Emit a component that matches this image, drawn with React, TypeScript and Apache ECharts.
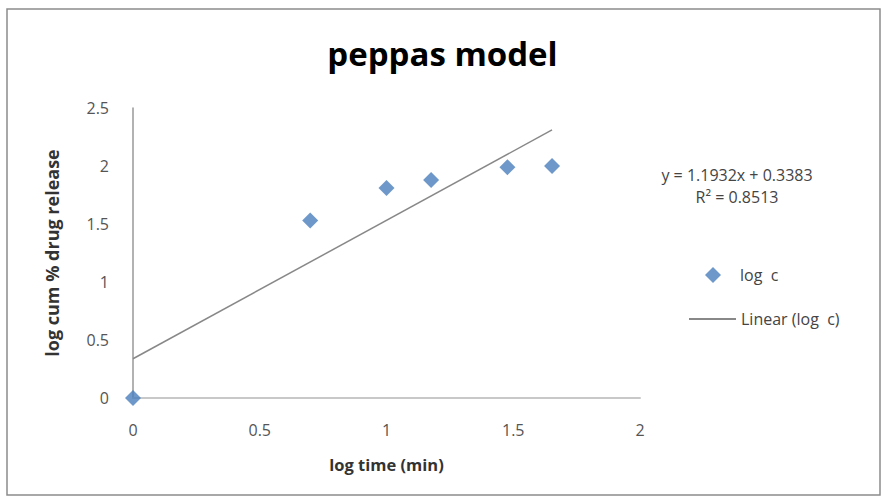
import React, { useEffect, useRef } from "react";
import * as echarts from "echarts";

const logTime = [0, 0.699, 1, 1.176, 1.477, 1.653];
const logC = [0, 1.53, 1.81, 1.88, 1.99, 2.0];
const slope = 1.1932;
const intercept = 0.3383;
const trendX = [0, 1.653];
const xTicks = [0, 0.5, 1, 1.5, 2];
const yTicks = [0, 0.5, 1, 1.5, 2, 2.5];

const FONT = "'Open Sans', 'Noto Sans', sans-serif";

export default function App() {
  const ref = useRef<HTMLDivElement>(null);
  useEffect(() => {
    if (!ref.current) return;
    const chart = echarts.init(ref.current, null, { renderer: "svg" });
    const trend = trendX.map((x) => [x, slope * x + intercept]);
    chart.setOption({
      animation: false,
      backgroundColor: "#ffffff",
      title: {
        text: "peppas model",
        left: "center",
        top: 32,
        textStyle: { fontFamily: FONT, fontSize: 33, fontWeight: "bold", color: "#000" },
      },
      grid: { left: 133, right: 245, top: 108, bottom: 101 },
      xAxis: {
        type: "value",
        min: xTicks[0],
        max: xTicks[xTicks.length - 1],
        interval: 0.5,
        name: "log time (min)",
        nameLocation: "middle",
        nameGap: 58,
        nameTextStyle: { fontFamily: FONT, fontSize: 16.5, fontWeight: "bold", color: "#333" },
        axisLine: { show: true, lineStyle: { color: "#c8c8c8", width: 2 } },
        axisTick: { show: false },
        splitLine: { show: false },
        axisLabel: { fontFamily: FONT, fontSize: 16, color: "#555", margin: 24 },
      },
      yAxis: {
        type: "value",
        min: yTicks[0],
        max: yTicks[yTicks.length - 1],
        interval: 0.5,
        name: "log cum % drug release",
        nameLocation: "middle",
        nameGap: 72,
        nameTextStyle: { fontFamily: FONT, fontSize: 18, fontWeight: "bold", color: "#333" },
        axisLine: { show: true, lineStyle: { color: "#999", width: 1.5 } },
        axisTick: { show: false },
        splitLine: { show: false },
        axisLabel: { fontFamily: FONT, fontSize: 16, color: "#555", margin: 24 },
      },
      legend: [
        {
          data: [{ name: "log  c", icon: "diamond" }],
          left: 700,
          top: 262,
          itemWidth: 16,
          itemHeight: 16,
          textStyle: { fontFamily: FONT, fontSize: 16, color: "#444", padding: [0, 0, 0, 14] },
        },
        {
          data: [{ name: "Linear (log  c)", icon: "rect" }],
          left: 684,
          top: 306,
          itemWidth: 47,
          itemHeight: 2,
          textStyle: { fontFamily: FONT, fontSize: 16, color: "#444", padding: [0, 0, 0, 0] },
        },
      ],
      graphic: [
        {
          type: "rect",
          shape: { x: 7, y: 9, width: 873, height: 486 },
          style: { fill: "none", stroke: "#8c8c8c", lineWidth: 1.5 },
          silent: true,
          z: -1,
        },
        {
          type: "text",
          x: 737,
          y: 175,
          style: {
            text: "y = 1.1932x + 0.3383",
            fontFamily: FONT,
            fontSize: 16,
            fill: "#444",
            align: "center",
            verticalAlign: "middle",
          },
        },
        {
          type: "text",
          x: 737,
          y: 197,
          style: {
            text: "R² = 0.8513",
            fontFamily: FONT,
            fontSize: 16,
            fill: "#444",
            align: "center",
            verticalAlign: "middle",
          },
        },
      ],
      series: [
        {
          name: "Linear (log  c)",
          type: "line",
          data: trend,
          showSymbol: false,
          symbol: "none",
          lineStyle: { color: "#888888", width: 1.5 },
          itemStyle: { color: "#888888" },
          z: 1,
        },
        {
          name: "log  c",
          type: "scatter",
          data: logTime.map((x, i) => [x, logC[i]]),
          symbol: "diamond",
          symbolSize: 16,
          itemStyle: { color: "#4a7ebb" },
          z: 2,
        },
      ],
    });
    return () => chart.dispose();
  }, []);
  return (
    <div
      ref={ref}
      style={{ position: "fixed", left: 0, top: 0, width: 885, height: 499 }}
    />
  );
}
